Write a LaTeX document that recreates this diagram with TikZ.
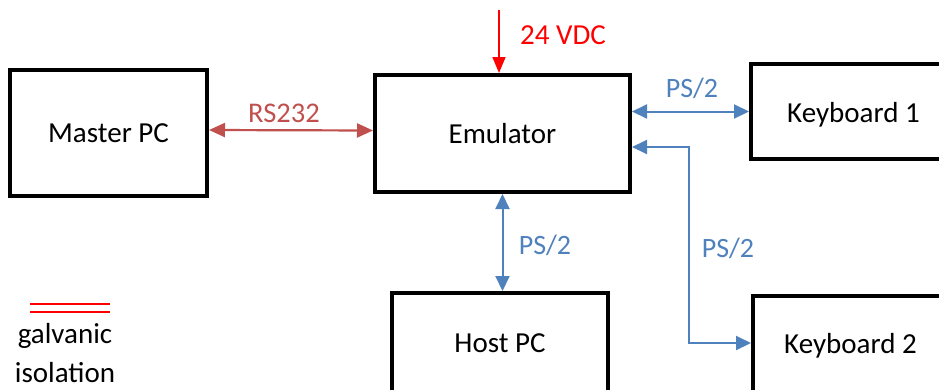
\documentclass[tikz,border=0pt]{standalone}
\usepackage{fontspec}
\setmainfont{Carlito}
\usetikzlibrary{arrows.meta}
\definecolor{lblue}{HTML}{4F81BD}
\definecolor{lred}{HTML}{C0504D}
\definecolor{pred}{HTML}{FF0000}
\tikzset{
  box/.style={draw=black, line width=4pt, rectangle, inner sep=0pt, font=\fontsize{29}{34}\selectfont},
  blink/.style={draw=lblue, line width=2pt, {Triangle[length=15pt,width=14pt]}-{Triangle[length=15pt,width=14pt]}},
  blab/.style={text=lblue, font=\fontsize{28}{33}\selectfont, inner sep=0pt},
  rlink/.style={draw=lred, line width=2.2pt, {Triangle[length=16pt,width=14pt]}-{Triangle[length=16pt,width=14pt]}},
  rlab/.style={text=lred, font=\fontsize{28.5}{33}\selectfont, inner sep=0pt},
  plink/.style={draw=pred, line width=1.6pt, -{Triangle[length=16pt,width=13pt]}},
  plab/.style={text=pred, font=\fontsize{29}{34}\selectfont, inner sep=0pt},
  legtext/.style={font=\fontsize{29}{34}\selectfont, inner sep=0pt},
}
\begin{document}
\begin{tikzpicture}[x=1pt,y=-1pt]
\clip (0,0) rectangle (939,389);
\useasboundingbox (0,0) rectangle (939,389);
\node[box, minimum width=197pt, minimum height=126pt] (master) at (108.5,133) {Master PC};
\node[box, minimum width=255pt, minimum height=117pt] (emu) at (502.5,133.5) {Emulator};
\node[box, minimum width=205pt, minimum height=95pt] (kb1) at (853.5,111.5) {\raisebox{-3pt}[\height][\depth]{Keyboard 1}};
\node[box, minimum width=205pt, minimum height=100pt] (kb2) at (855.5,346) {\hspace*{-5pt}Keyboard 2\hspace*{5pt}};
\node[box, minimum width=216pt, minimum height=100pt] (host) at (500,343) {Host PC};
% RS232
\draw[rlink] ([yshift=3pt]master.east) -- ([yshift=3pt]emu.west);
\node[rlab] (rs) at (284,113) {RS232};
% power
\coordinate (pwr) at (499,10);
\draw[plink] (pwr) -- (pwr |- emu.north);
\node[plab] (vdc) at (563,35) {24 VDC};
% keyboard 1
\draw[blink] (emu.east |- kb1.west) -- (kb1.west);
\node[blab] (ps1) at (692,88) {PS/2};
% keyboard 2
\coordinate (bend) at (689,0);
\coordinate (kb2in) at ([yshift=3pt]kb2.west);
\draw[blink] ([yshift=-13.5pt]emu.east) -| (bend |- kb2in) -- (kb2in);
\node[blab] (ps3) at (728,248) {PS/2};
% host
\draw[blink] (emu.south) -- (emu.south |- host.north);
\node[blab] (ps2) at (545,245) {PS/2};
% legend
\coordinate (l1a) at (30,304);
\coordinate (l1b) at (110,304);
\coordinate (l2a) at (30,312);
\coordinate (l2b) at (110,312);
\draw[pred, line width=1.5pt] (l1a) -- (l1b);
\draw[pred, line width=1.5pt] (l2a) -- (l2b);
\node[legtext] (gal) at (65,336) {galvanic};
\node[legtext] (iso) at (65,373) {isolation};
\end{tikzpicture}
\end{document}
